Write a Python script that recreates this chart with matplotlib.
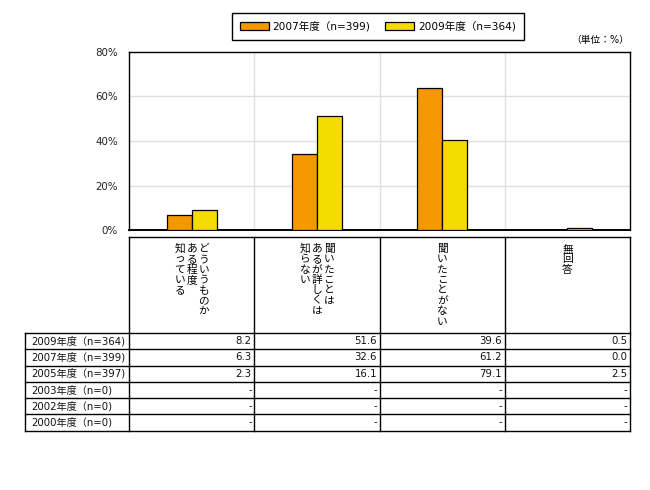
import matplotlib
matplotlib.use("Agg")
import matplotlib.pyplot as plt
import numpy as np

# ---- data ----
categories = [
    ["どういうものか", "ある程度", "知っている"],
    ["聞いたことは", "あるが詳しくは", "知らない"],
    ["聞いたことがない"],
    ["無回答"],
]
series_names = ["2007年度（n=399)", "2009年度（n=364)"]
bars_2007 = [6.7, 34.3, 63.6, 0.0]
bars_2009 = [9.0, 51.3, 40.6, 0.9]
colors = ["#F39800", "#F4DC00"]

row_labels = ["2009年度（n=364)", "2007年度（n=399)", "2005年度（n=397)",
              "2003年度（n=0)", "2002年度（n=0)", "2000年度（n=0)"]
table_values = [
    ["8.2", "51.6", "39.6", "0.5"],
    ["6.3", "32.6", "61.2", "0.0"],
    ["2.3", "16.1", "79.1", "2.5"],
    ["-", "-", "-", "-"],
    ["-", "-", "-", "-"],
    ["-", "-", "-", "-"],
]
yticks = [0, 20, 40, 60, 80]
unit_text = "（単位：%）"

FAM = ["DejaVu Sans", "Noto Sans CJK JP"]
plt.rcParams["font.family"] = FAM

W, H = 650, 490
fig = plt.figure(figsize=(W / 100, H / 100), dpi=100)

# plot area in pixels
PL, PR, PT, PB = 129, 630, 51.7, 230.3
ax = fig.add_axes([PL / W, 1 - PB / H, (PR - PL) / W, (PB - PT) / H])
x = np.arange(len(categories))
bw = 0.2
b1 = ax.bar(x - bw / 2, bars_2007, bw, color=colors[0], edgecolor="black",
            linewidth=0.9, label=series_names[0], zorder=3)
b2 = ax.bar(x + bw / 2, bars_2009, bw, color=colors[1], edgecolor="black",
            linewidth=0.9, label=series_names[1], zorder=3)
ax.set_xlim(-0.5, len(categories) - 0.5)
ax.set_ylim(0, 80)
ax.set_yticks(yticks)
ax.set_yticklabels([f"{v}%" for v in yticks], fontsize=7.4, color="#222222")
ax.tick_params(axis="y", length=0, pad=8)
ax.set_xticks([])
for v in yticks[1:-1]:
    ax.axhline(v, color="#E0E0E0", lw=1.0, zorder=1)
for b in np.arange(0.5, len(categories) - 0.5, 1):
    ax.axvline(b, color="#E0E0E0", lw=1.0, zorder=1)
for s in ax.spines.values():
    s.set_linewidth(1.0)
ax.spines["bottom"].set_linewidth(1.4)

# legend
leg = fig.legend(handles=[b1, b2], labels=series_names, loc="center",
                 bbox_to_anchor=((234 + 522) / 2 / W, 1 - 26.3 / H),
                 ncol=2, fontsize=7.6, frameon=True, fancybox=False,
                 edgecolor="black", framealpha=1, handlelength=2.7,
                 handleheight=0.7, handletextpad=0.4, columnspacing=1.4,
                 borderpad=0.8)
leg.get_frame().set_linewidth(1.0)

# overlay for table
ov = fig.add_axes([0, 0, 1, 1])
ov.set_xlim(0, W)
ov.set_ylim(H, 0)
ov.axis("off")

fig.text(629 / W, 1 - 39.5 / H, unit_text, ha="right", va="center",
         fontsize=7, family=FAM)

col_edges = [PL + i * (PR - PL) / len(categories) for i in range(len(categories) + 1)]
head_top, head_bot = 237, 333
row_h = 16.25
lw = 1.0
n_rows = len(row_labels)
tab_bot = head_bot + n_rows * row_h
lab_left = 24.7

# header box
ov.plot([col_edges[0], col_edges[-1]], [head_top, head_top], color="black", lw=lw)
for cx in col_edges:
    ov.plot([cx, cx], [head_top, tab_bot], color="black", lw=lw)
# rows
for r in range(n_rows + 1):
    y = head_bot + r * row_h
    ov.plot([lab_left, col_edges[-1]], [y, y], color="black", lw=lw)
ov.plot([lab_left, lab_left], [head_bot, tab_bot], color="black", lw=lw)

# header vertical text (columns right-to-left)
ch_step = 10.4
col_gap = 12
for ci, lines in enumerate(categories):
    cx = (col_edges[ci] + col_edges[ci + 1]) / 2
    n = len(lines)
    for li, line in enumerate(lines):
        lx = cx + ((n - 1) / 2 - li) * col_gap
        for k, ch in enumerate(line):
            ov.text(lx, 243.5 + ch_step * (k + 0.5), ch, ha="center",
                    va="center", fontsize=7.7, family=["Noto Sans CJK JP"],
                    color="#000000")

# row labels and values
for r, lab in enumerate(row_labels):
    yc = head_bot + (r + 0.5) * row_h
    ov.text(31, yc, lab, ha="left", va="center", fontsize=7.3, color="#111111")
    for ci, val in enumerate(table_values[r]):
        ov.text(col_edges[ci + 1] - 2.5, yc, val, ha="right", va="center",
                fontsize=7.3, color="#111111")

fig.savefig("out.png", dpi=100)
